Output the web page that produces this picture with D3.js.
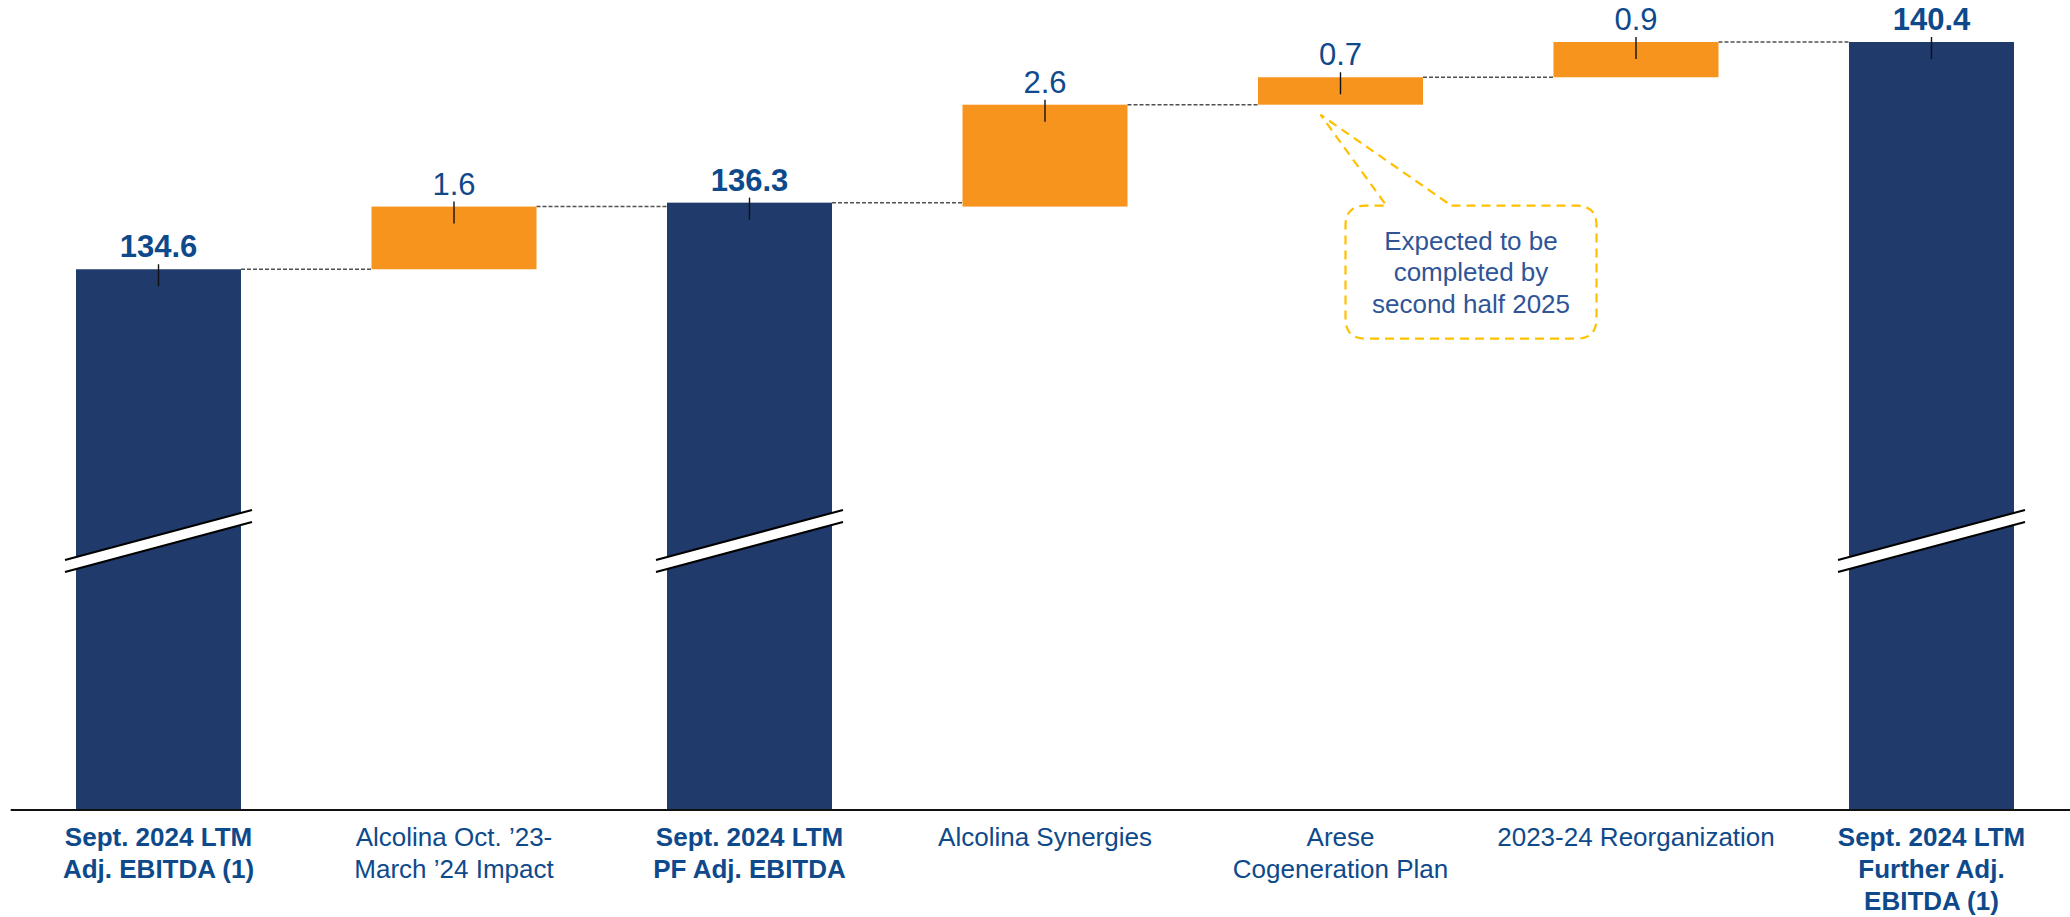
<!DOCTYPE html>
<html>
<head>
<meta charset="utf-8">
<script src="https://cdn.jsdelivr.net/npm/d3@7"></script>
<style>
  html, body { margin: 0; padding: 0; background: #ffffff; }
  svg { display: block; font-family: "Liberation Sans", Arial, Helvetica, sans-serif; }
</style>
</head>
<body>
<svg id="chart" width="2070" height="917"></svg>
<script>
// EBITDA bridge: reported totals and the adjustments between them
const categories = ["adj", "alcolina", "pf", "synergies", "arese", "reorg", "further"];
const categoryLines = [
  ["Sept. 2024 LTM", "Adj. EBITDA (1)"],
  ["Alcolina Oct. \u201923-", "March \u201924 Impact"],
  ["Sept. 2024 LTM", "PF Adj. EBITDA"],
  ["Alcolina Synergies"],
  ["Arese", "Cogeneration Plan"],
  ["2023-24 Reorganization"],
  ["Sept. 2024 LTM", "Further Adj.", "EBITDA (1)"]
];
const values = [134.6, 1.6, 136.3, 2.6, 0.7, 0.9, 140.4];
const kinds = ["total", "delta", "total", "delta", "delta", "delta", "total"];
const valueLabels = ["134.6", "1.6", "136.3", "2.6", "0.7", "0.9", "140.4"];
const calloutLines = ["Expected to be", "completed by", "second half 2025"];
const calloutIndex = 4;

const W = 2070, H = 917;
const axisY = 810;
const yFloor = 120.8;

const navy = "#1f3a6b";
const orange = "#f7941d";
const labelBlue = "#0e4a8b";

const svg = d3.select("#chart");

const x = d3.scaleBand()
  .domain(categories)
  .range([0, 2090])
  .paddingInner(0.4416)
  .paddingOuter(0.2572);

const y = d3.scaleLinear()
  .domain([yFloor, 140.4])
  .range([axisY, 42]);

// Build floating segments: totals stand on the axis, deltas stack on the running level
let level = values[0];
const bars = categories.map((c, i) => {
  let lo, hi;
  if (kinds[i] === "total") {
    lo = yFloor; hi = values[i];
    if (i === 0) level = values[i];
  } else {
    lo = level; hi = level + values[i]; level = hi;
  }
  return { key: c, kind: kinds[i], lo, hi, label: valueLabels[i], i };
});

// Dashed connectors between neighbouring bars
const connectors = bars.slice(0, -1).map((b, i) => ({
  x1: x(b.key) + x.bandwidth(),
  x2: x(bars[i + 1].key),
  yv: b.hi
}));
svg.append("g").selectAll("line").data(connectors).join("line")
  .attr("x1", d => d.x1).attr("x2", d => d.x2)
  .attr("y1", d => y(d.yv)).attr("y2", d => y(d.yv))
  .attr("stroke", "#505050").attr("stroke-width", 1.5)
  .attr("stroke-dasharray", "4,2");

// Bars
svg.append("g").selectAll("rect").data(bars).join("rect")
  .attr("x", d => x(d.key))
  .attr("width", x.bandwidth())
  .attr("y", d => y(d.hi))
  .attr("height", d => y(d.lo) - y(d.hi))
  .attr("fill", d => d.kind === "total" ? navy : orange);

// Axis-break marks on the totals
const breakG = svg.append("g");
bars.filter(d => d.kind === "total").forEach(d => {
  const x0 = x(d.key) - 11, x1 = x(d.key) + x.bandwidth() + 11;
  const yL = 560, yR = 510, gap = 12;
  breakG.append("path")
    .attr("d", `M${x0},${yL}L${x1},${yR}L${x1},${yR + gap}L${x0},${yL + gap}Z`)
    .attr("fill", "#fff");
  [0, gap].forEach(o => {
    breakG.append("line")
      .attr("x1", x0).attr("y1", yL + o).attr("x2", x1).attr("y2", yR + o)
      .attr("stroke", "#000").attr("stroke-width", 2);
  });
});

// Leader ticks and value labels
const cx = d => x(d.key) + x.bandwidth() / 2;
svg.append("g").selectAll("line").data(bars).join("line")
  .attr("x1", cx).attr("x2", cx)
  .attr("y1", d => y(d.hi) - 5).attr("y2", d => y(d.hi) + 17)
  .attr("stroke", "#111").attr("stroke-width", 1.4);

svg.append("g").selectAll("text").data(bars).join("text")
  .attr("x", cx)
  .attr("y", d => y(d.hi) - 12)
  .attr("text-anchor", "middle")
  .attr("font-size", 31)
  .attr("font-weight", d => d.kind === "total" ? "bold" : "normal")
  .attr("fill", labelBlue)
  .text(d => d.label);

// Category axis
const axis = svg.append("g")
  .attr("transform", `translate(0,${axisY})`)
  .call(d3.axisBottom(x).tickSize(0).tickSizeOuter(0).tickFormat(""));
axis.select(".domain").attr("d", `M10.7,0H${W}`).attr("stroke", "#111").attr("stroke-width", 2);
axis.selectAll(".tick").each(function (c, i) {
  const t = d3.select(this).select("text")
    .attr("y", 0).attr("dy", null)
    .attr("font-size", 26)
    .attr("font-family", "Liberation Sans, Arial, sans-serif")
    .attr("font-weight", kinds[i] === "total" ? "bold" : "normal")
    .attr("fill", labelBlue);
  categoryLines[i].forEach((line, k) => {
    t.append("tspan").attr("x", 0).attr("y", 36 + k * 32).text(line);
  });
});

// Callout for the Arese cogeneration plan
const cb = bars[calloutIndex];
const ax = cx(cb) - 20, ay = y(cb.lo) + 10;
const bx0 = ax + 25, bx1 = ax + 276, by0 = ay + 91, by1 = ay + 224, r = 20;
const pl = ax + 66, pr = ax + 131;
const callPath = `M${pr},${by0}H${bx1 - r}Q${bx1},${by0} ${bx1},${by0 + r}` +
  `V${by1 - r}Q${bx1},${by1} ${bx1 - r},${by1}H${bx0 + r}Q${bx0},${by1} ${bx0},${by1 - r}` +
  `V${by0 + r}Q${bx0},${by0} ${bx0 + r},${by0}H${pl}L${ax},${ay}Z`;
svg.append("path")
  .attr("d", callPath)
  .attr("fill", "none")
  .attr("stroke", "#ffc000").attr("stroke-width", 2.2)
  .attr("stroke-dasharray", "9,6");
const ct = svg.append("text")
  .attr("text-anchor", "middle")
  .attr("font-size", 26)
  .attr("fill", "#2f5597");
calloutLines.forEach((line, k) => {
  ct.append("tspan").attr("x", (bx0 + bx1) / 2).attr("y", ay + 135 + k * 31.5).text(line);
});
</script>
</body>
</html>
